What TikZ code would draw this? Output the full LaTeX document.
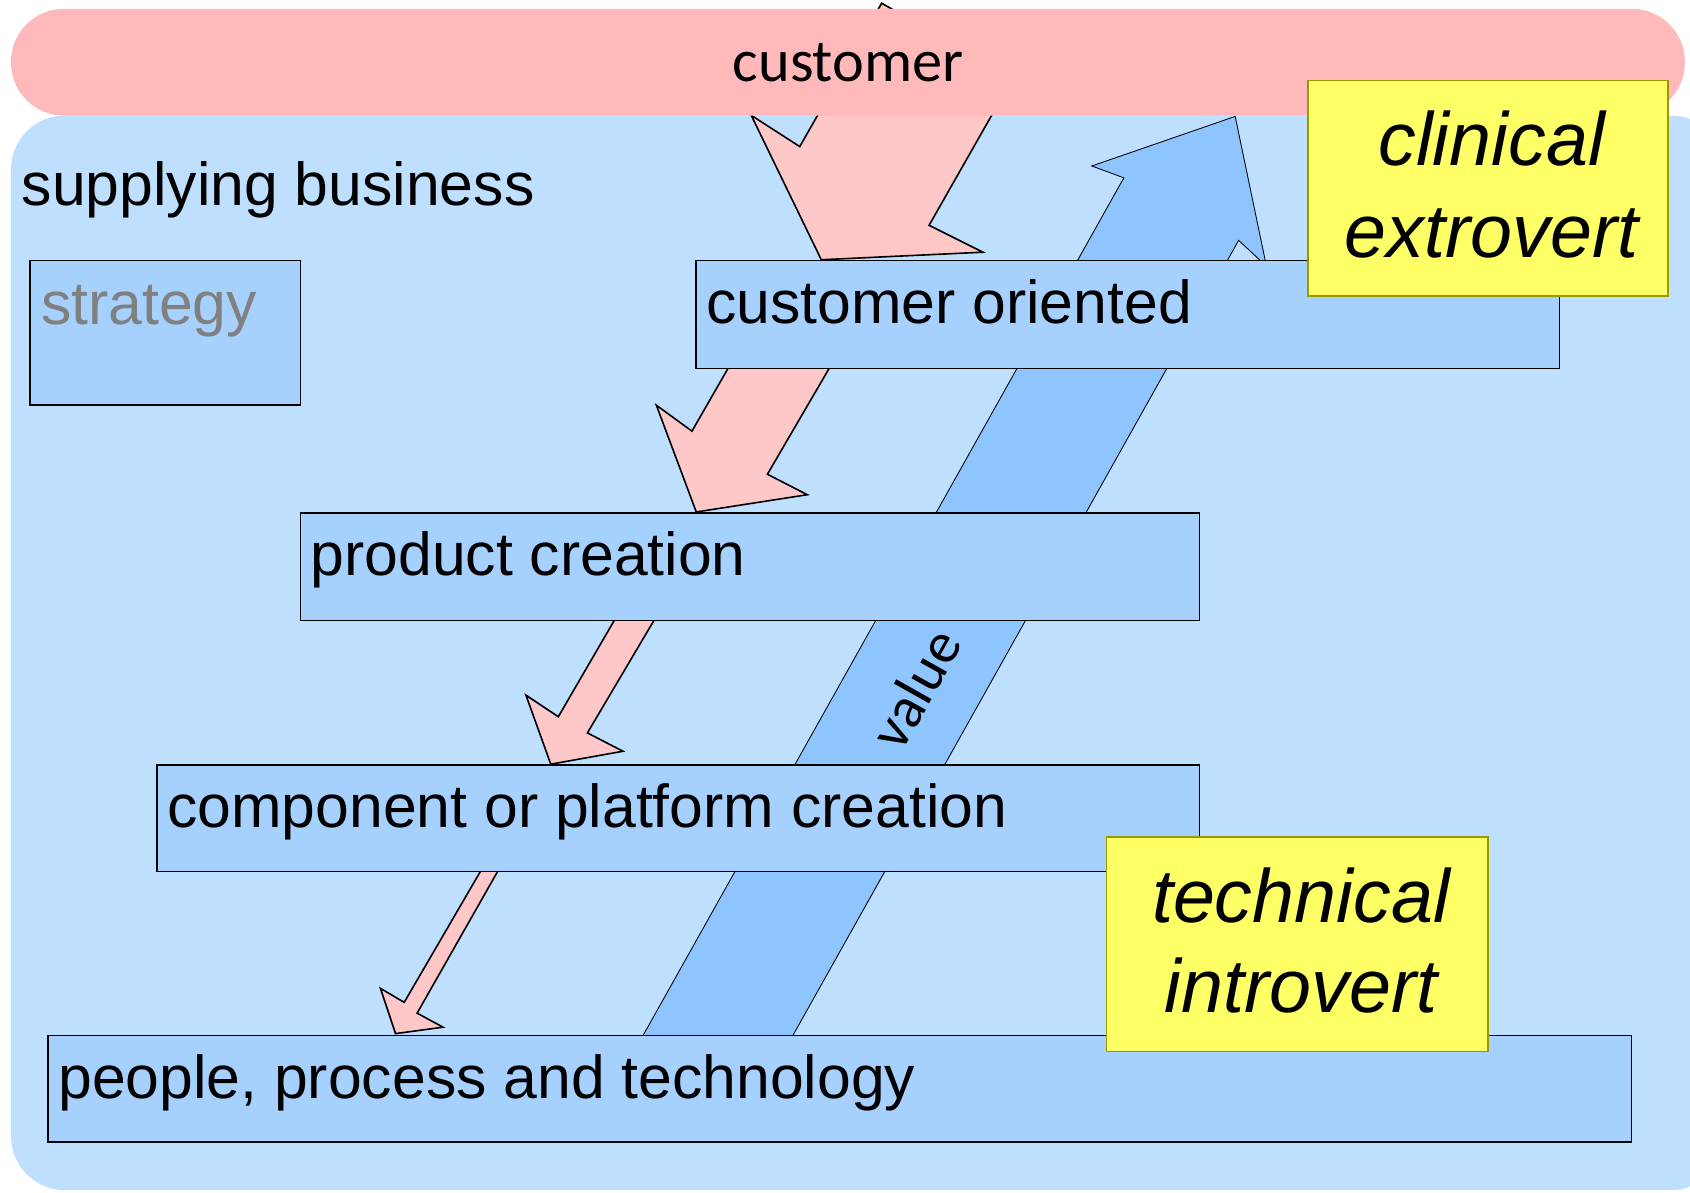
\documentclass[tikz,border=0pt]{standalone}
\usepackage{fontspec}
\setmainfont{Liberation Sans}
\newfontfamily\calibrifont{Carlito}
\usetikzlibrary{calc}
\definecolor{bizblue}{HTML}{BFDFFF}
\definecolor{boxblue}{HTML}{A6D1FF}
\definecolor{valblue}{HTML}{8EC5FF}
\definecolor{custpink}{HTML}{FFB9BB}
\definecolor{arrpink}{HTML}{FFC8C8}
\definecolor{noteyellow}{HTML}{FFFF66}
\definecolor{noteborder}{HTML}{999900}
\definecolor{stratgray}{HTML}{808080}
\begin{document}
\begin{tikzpicture}[x=1pt,y=-1pt,
  layerbox/.style={draw=black, line width=1.5pt, fill=boxblue, inner sep=0pt, anchor=north west},
  boxtext/.style={anchor=base west, inner sep=0pt, font=\fontsize{56.3}{67}\selectfont},
  notebox/.style={draw=noteborder, line width=1.5pt, fill=noteyellow, inner sep=0pt, anchor=north west},
  notetext/.style={anchor=base, inner sep=0pt, font=\fontsize{70}{86}\selectfont\itshape},
  pinkarrow/.style={draw=black, line width=1.5pt, fill=arrpink, line join=miter},
  valuearrow/.style={draw=black, line width=0.8pt, fill=valblue, line join=miter},
]
\useasboundingbox (0,0) rectangle (1568,1106);

% supplying business background
\node[fill=bizblue, rounded corners=50pt, minimum width=1590pt, minimum height=997pt,
      anchor=north west, inner sep=0pt] (business) at (10,107) {};
\node[boxtext] (suplbl) at (20,191) {supplying business};

% big pink arrow from customer
\draw[pinkarrow] (818,3) -- (940,72) -- (862,209) -- (912,234) -- (762,241)
  -- (697,107) -- (742,136) -- cycle;

% customer bar
\node[fill=custpink, rounded corners=49pt, minimum width=1553pt, minimum height=99pt,
      anchor=north west, inner sep=0pt] (customer) at (10,8) {};
\node[anchor=base, inner sep=0pt, font=\calibrifont\fontsize{56}{67}\selectfont]
      (custlbl) at (787,76) {customer};

% value band
\draw[valuearrow] (1146,108) -- (1175,247) -- (1149.2,223) -- (713.6,1000)
  -- (574.6,1000) -- (1042.7,165) -- (1013,154) -- cycle;
\node[rotate=60.7, inner sep=0pt, font=\calibrifont\fontsize{54}{64}\selectfont]
      (valuelbl) at (849,639) {value};

% pink arrows between layers
\draw[pinkarrow] (688,320) -- (782,320) -- (712,440) -- (749,459) -- (646,475)
  -- (609,376) -- (642,400) -- cycle;
\draw[pinkarrow] (579,560) -- (616,560) -- (545,680) -- (578,697) -- (511,709)
  -- (488,645) -- (518,665) -- cycle;
\draw[pinkarrow] (453.6,795) -- (469.4,795) -- (387,940) -- (411,953) -- (367,959)
  -- (353,917) -- (375,930) -- cycle;

% boxes
\node[layerbox, minimum width=251pt, minimum height=134pt] (strategy) at (27,241) {};
\node[boxtext, text=stratgray] (stratlbl) at ($(strategy.north west)+(11,60)$) {strategy};

\node[layerbox, minimum width=801pt, minimum height=100pt] (custor) at (645,241) {};
\node[boxtext] (custorlbl) at ($(custor.north west)+(10,59)$) {customer oriented};

\node[layerbox, minimum width=834pt, minimum height=100pt] (prod) at (278,475) {};
\node[boxtext] (prodlbl) at ($(prod.north west)+(10,59)$) {product creation};

\node[layerbox, minimum width=967pt, minimum height=99pt] (comp) at (145,709) {};
\node[boxtext] (complbl) at ($(comp.north west)+(10,59)$) {component or platform creation};

\node[layerbox, minimum width=1469pt, minimum height=99pt] (ppt) at (44,960) {};
\node[boxtext] (pptlbl) at ($(ppt.north west)+(10,59)$) {people, process and technology};

% notes
\node[notebox, minimum width=334pt, minimum height=200pt] (clin) at (1213,74) {};
\node[notetext] (clin1) at (1384,154) {clinical};
\node[notetext] (clin2) at (1384,239) {extrovert};

\node[notebox, minimum width=354pt, minimum height=199pt] (tech) at (1026,776) {};
\node[notetext] (tech1) at (1207,856) {technical};
\node[notetext] (tech2) at (1207,939) {introvert};
\end{tikzpicture}
\end{document}
